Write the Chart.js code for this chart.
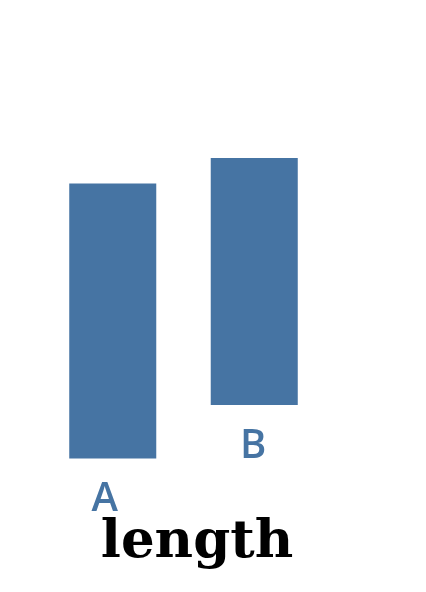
<!DOCTYPE html>
<html>
<head>
<meta charset="utf-8">
<script src="https://cdn.jsdelivr.net/npm/chart.js@4"></script>
<style>
html,body{margin:0;padding:0;background:#fff;}
</style>
</head>
<body>
<canvas id="lengthChart" width="426" height="592"></canvas>
<script>

// data
const categories = ["A", "B"]
const lowValues = [1.0, 2.05]
const highValues = [6.4, 6.9]
const axisTitle = "length"

const barColor = "#4674a3"


// labels under each bar
const barLabels = {
id:"barLabels",
afterDatasetsDraw(chart, args, opts){
const ctx = chart.ctx
const meta = chart.getDatasetMeta(0)
ctx.save()
ctx.fillStyle = opts.color
ctx.font = opts.font
ctx.textAlign = "center"
ctx.textBaseline = "alphabetic"
meta.data.forEach(function(bar, i){
ctx.fillText(chart.data.labels[i], bar.x + opts.shift[i], bar.base + opts.gap)
})
ctx.restore()
}
}


const ctx = document.getElementById("lengthChart")

const chart = new Chart(ctx,{
type:"bar",
data:{
labels:categories,
datasets:[{
data:categories.map(function(c, i){ return [lowValues[i], highValues[i]] }),
backgroundColor:barColor,
borderWidth:0,
categoryPercentage:1,
barPercentage:0.615
}]
},
options:{
responsive:false,
devicePixelRatio:1,
animation:false,
layout:{
padding:{left:10, right:42, top:0, bottom:0}
},
plugins:{
legend:{display:false},
tooltip:{enabled:false},
title:{
display:true,
position:"bottom",
text:axisTitle,
color:"#000",
font:{family:"DejaVu Serif", size:53, weight:"bold", lineHeight:1.2},
padding:{top:2, bottom:17}
},
barLabels:{
color:barColor,
font:"600 40px 'Open Sans'",
gap:53,
shift:[-8, -1]
}
},
scales:{
x:{display:false},
y:{
min:0,
max:10,
ticks:{display:false},
grid:{display:false},
border:{display:false},
afterFit:function(scale){ scale.width = 32 }
},
yRight:{
position:"right",
ticks:{display:false},
grid:{display:false},
border:{display:false},
afterFit:function(scale){ scale.width = 59 }
}
}
},
plugins:[barLabels]
})

</script>
</body>
</html>
